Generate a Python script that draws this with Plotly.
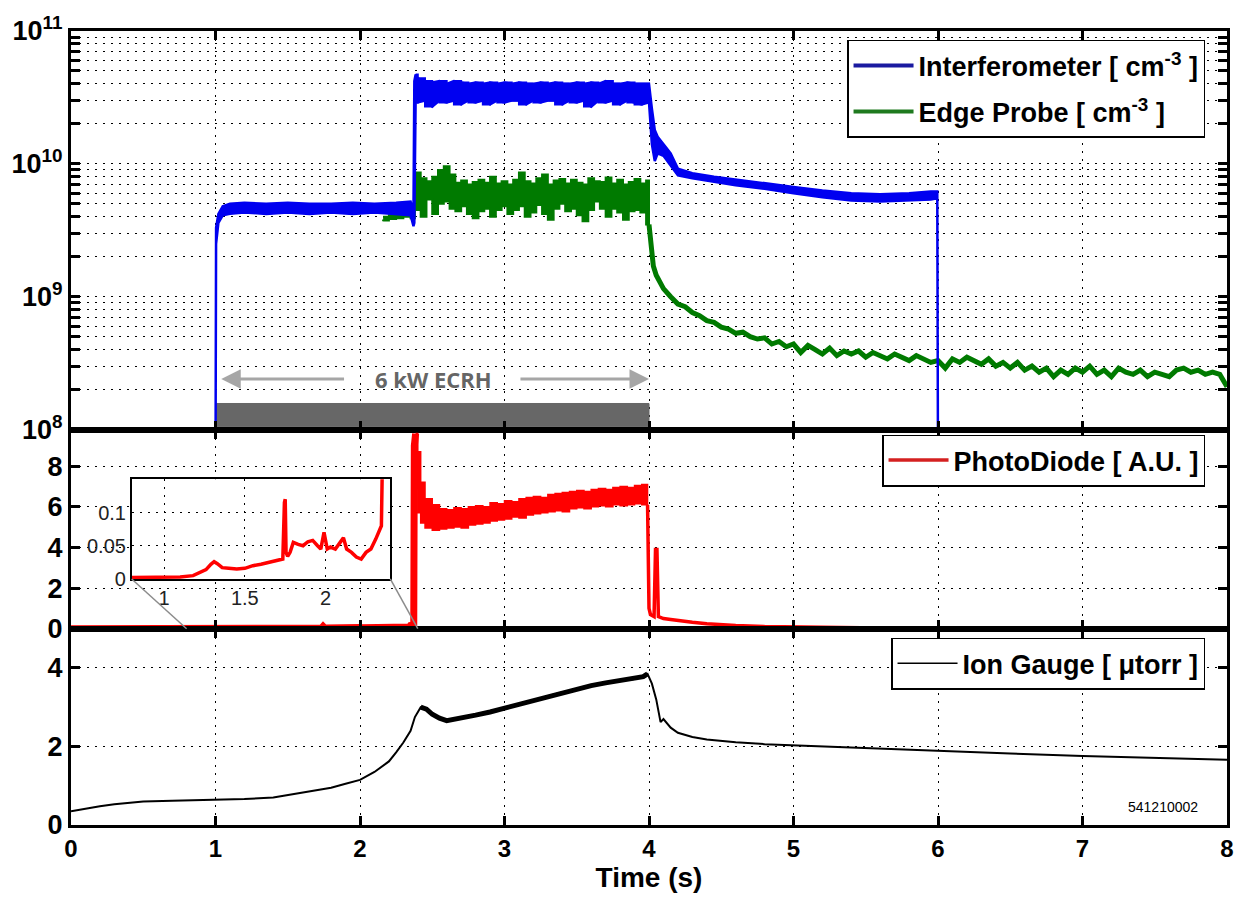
import plotly.graph_objects as go

# ---------------- data ----------------
# Interferometer (upper / lower envelope of the noisy trace), cm^-3
ifm_t = [1.000, 1.004, 1.02, 1.05, 1.10, 1.20, 1.35, 1.50, 1.65, 1.80,
         1.95, 2.10, 2.25, 2.35, 2.37, 2.376, 2.385, 2.40, 2.45, 2.50,
         2.55, 2.60, 2.65, 2.70, 2.75, 2.80, 2.85, 2.90, 2.95, 3.00,
         3.05, 3.10, 3.15, 3.20, 3.25, 3.30, 3.35, 3.40, 3.45, 3.50,
         3.55, 3.60, 3.65, 3.70, 3.75, 3.80, 3.85, 3.90, 3.95, 4.00,
         4.02, 4.04, 4.06, 4.10, 4.15, 4.20, 4.30, 4.45, 4.60, 4.80,
         5.00, 5.20, 5.40, 5.60, 5.80, 5.95, 5.995, 6.000]
ifm_hi = [5e7, 3.3e9, 4.2e9, 4.8e9, 5.0e9, 5.1e9, 5.0e9, 5.1e9, 5.0e9, 5.0e9,
          5.1e9, 5.0e9, 5.1e9, 5.2e9, 4.4e9, 4.2e10, 4.7e10, 4.4e10, 4.2e10, 4.1e10,
          4.2e10, 4.0e10, 4.2e10, 4.1e10, 4.0e10, 4.1e10, 4.0e10, 4.1e10, 4.0e10, 4.1e10,
          4.0e10, 4.1e10, 4.0e10, 4.0e10, 4.1e10, 4.0e10, 4.1e10, 4.0e10, 4.0e10, 4.1e10,
          4.0e10, 4.1e10, 4.0e10, 4.2e10, 4.0e10, 4.0e10, 4.1e10, 4.0e10, 4.0e10, 4.0e10,
          2.6e10, 1.8e10, 1.6e10, 1.4e10, 1.2e10, 9.2e9, 8.5e9, 8.0e9, 7.6e9, 7.1e9,
          6.7e9, 6.3e9, 6.0e9, 5.9e9, 6.0e9, 6.2e9, 6.2e9, 5e7]
ifm_lo = [5e7, 2.5e9, 3.6e9, 4.1e9, 4.2e9, 4.3e9, 4.2e9, 4.3e9, 4.2e9, 4.3e9,
          4.2e9, 4.3e9, 4.2e9, 4.1e9, 3.4e9, 3.6e9, 3.0e10, 2.9e10, 3.0e10, 2.7e10,
          3.0e10, 2.9e10, 3.0e10, 2.8e10, 3.0e10, 2.9e10, 3.0e10, 2.8e10, 3.0e10, 2.9e10,
          3.0e10, 3.0e10, 2.8e10, 3.0e10, 2.9e10, 3.0e10, 3.0e10, 2.8e10, 3.0e10, 2.9e10,
          3.0e10, 2.7e10, 3.0e10, 2.9e10, 3.0e10, 2.8e10, 3.0e10, 2.9e10, 2.8e10, 2.9e10,
          1.4e10, 1.05e10, 1.2e10, 1.15e10, 9.8e9, 8.2e9, 7.8e9, 7.3e9, 6.9e9, 6.5e9,
          6.0e9, 5.6e9, 5.3e9, 5.2e9, 5.3e9, 5.4e9, 5.5e9, 5e7]
ifm_noisy_window = [2.385, 4.00]

# Edge probe: noisy band during heating, then the decaying tail (cm^-3)
ep_band_t = [2.16, 2.20, 2.25, 2.30, 2.35, 2.37,
             2.38, 2.42, 2.46, 2.50, 2.54, 2.58, 2.62, 2.66, 2.70, 2.74,
             2.78, 2.82, 2.86, 2.90, 2.94, 2.98, 3.02, 3.06, 3.10, 3.14,
             3.18, 3.22, 3.26, 3.30, 3.34, 3.38, 3.42, 3.46, 3.50, 3.54,
             3.58, 3.62, 3.66, 3.70, 3.74, 3.78, 3.82, 3.86, 3.90, 3.94,
             3.98, 4.00]
ep_band_hi = [4.0e9, 4.1e9, 4.2e9, 4.3e9, 4.4e9, 4.6e9,
              8.6e9, 7.8e9, 7.4e9, 8.0e9, 9.0e9, 9.6e9, 8.3e9, 7.2e9, 7.5e9, 7.0e9,
              7.3e9, 7.6e9, 7.2e9, 8.0e9, 7.1e9, 7.4e9, 7.0e9, 7.6e9, 8.6e9, 7.4e9,
              7.1e9, 7.8e9, 8.3e9, 7.0e9, 7.5e9, 7.7e9, 7.1e9, 7.6e9, 7.2e9, 7.0e9,
              7.8e9, 7.4e9, 7.3e9, 7.9e9, 7.1e9, 7.6e9, 7.0e9, 7.3e9, 7.7e9, 7.1e9,
              7.5e9, 7.0e9]
ep_band_lo = [3.7e9, 3.75e9, 3.85e9, 3.9e9, 4.0e9, 3.9e9,
              3.9e9, 4.5e9, 4.0e9, 5.4e9, 4.2e9, 5.0e9, 5.2e9, 4.6e9, 4.4e9, 4.8e9,
              4.2e9, 3.9e9, 4.4e9, 4.6e9, 4.0e9, 4.5e9, 4.8e9, 4.2e9, 4.5e9, 4.8e9,
              4.0e9, 4.3e9, 4.9e9, 4.2e9, 3.8e9, 4.6e9, 5.0e9, 4.4e9, 4.6e9, 4.1e9,
              3.7e9, 4.5e9, 5.2e9, 4.6e9, 4.0e9, 4.6e9, 4.3e9, 3.8e9, 4.4e9, 4.5e9,
              4.3e9, 3.5e9]
ep_tail_t = [4.00, 4.01, 4.02, 4.03, 4.05,
             4.10, 4.15, 4.20, 4.25, 4.30, 4.35, 4.40, 4.45, 4.50, 4.55,
             4.60, 4.65, 4.70, 4.75, 4.80, 4.85, 4.90, 4.95, 5.00, 5.05,
             5.10, 5.15, 5.20, 5.25, 5.30, 5.35, 5.40, 5.45, 5.50, 5.55,
             5.60, 5.65, 5.70, 5.75, 5.80, 5.85, 5.90, 5.95, 6.00, 6.05,
             6.10, 6.15, 6.20, 6.25, 6.30, 6.35, 6.40, 6.45, 6.50, 6.55,
             6.60, 6.65, 6.70, 6.75, 6.80, 6.85, 6.90, 6.95, 7.00, 7.05,
             7.10, 7.15, 7.20, 7.25, 7.30, 7.35, 7.40, 7.45, 7.50, 7.55,
             7.60, 7.65, 7.70, 7.75, 7.80, 7.85, 7.90, 7.95, 8.00]
ep_tail_v = [3.5e9, 2.5e9, 2.0e9, 1.7e9, 1.45e9,
             1.15e9, 1.0e9, 8.8e8, 8.4e8, 7.6e8, 7.2e8, 6.6e8, 6.4e8, 5.9e8, 5.7e8,
             5.3e8, 5.4e8, 5.0e8, 4.8e8, 4.9e8, 4.4e8, 4.6e8, 4.2e8, 4.4e8, 3.8e8,
             4.3e8, 4.0e8, 3.7e8, 4.1e8, 3.6e8, 3.9e8, 3.7e8, 3.9e8, 3.5e8, 3.8e8,
             3.6e8, 3.4e8, 3.7e8, 3.5e8, 3.3e8, 3.6e8, 3.4e8, 3.2e8, 3.3e8, 2.9e8,
             3.4e8, 3.2e8, 3.5e8, 3.3e8, 3.1e8, 3.4e8, 3.0e8, 3.2e8, 2.9e8, 3.2e8,
             2.8e8, 3.0e8, 2.7e8, 2.9e8, 2.5e8, 2.8e8, 2.6e8, 2.9e8, 2.7e8, 3.0e8,
             2.6e8, 2.8e8, 2.5e8, 2.9e8, 2.7e8, 2.6e8, 2.8e8, 2.5e8, 2.7e8, 2.6e8,
             2.5e8, 2.8e8, 2.9e8, 2.7e8, 2.8e8, 2.6e8, 2.7e8, 2.6e8, 2.1e8]

# ECRH heating window (s) and the grey bar's vertical extent (cm^-3)
ecrh_t = [1.0, 4.0]
ecrh_bar = [1.05e8, 1.57e8]

# PhotoDiode [A.U.] -- low-level signal (also shown in the inset)
inset_t = [0.80, 0.90, 1.00, 1.10, 1.18, 1.22, 1.26, 1.29, 1.31, 1.33,
           1.36, 1.40, 1.45, 1.50, 1.55, 1.60, 1.65, 1.70, 1.735, 1.745,
           1.75, 1.755, 1.765, 1.78, 1.80, 1.83, 1.86, 1.89, 1.92, 1.95,
           1.97, 1.99, 2.00, 2.01, 2.03, 2.06, 2.09, 2.11, 2.13, 2.16,
           2.19, 2.22, 2.25, 2.28, 2.31, 2.33, 2.345, 2.35]
inset_v = [0.002, 0.002, 0.003, 0.003, 0.005, 0.009, 0.014, 0.022, 0.026, 0.023,
           0.017, 0.016, 0.015, 0.016, 0.020, 0.022, 0.025, 0.028, 0.030, 0.115,
           0.120, 0.040, 0.034, 0.040, 0.055, 0.052, 0.050, 0.056, 0.058, 0.050,
           0.045, 0.070, 0.060, 0.045, 0.048, 0.045, 0.055, 0.062, 0.045, 0.040,
           0.033, 0.030, 0.040, 0.045, 0.060, 0.070, 0.080, 0.160]
pd_start_t = [0.0]
pd_start_v = [0.002]
pd_rise_t = [2.372, 2.376, 2.385]
pd_rise_v = [0.2, 9.0, 9.6]
pd_band_t = [2.385, 2.40, 2.42, 2.45, 2.50, 2.55, 2.60, 2.65, 2.70, 2.75,
             2.80, 2.85, 2.90, 2.95, 3.00, 3.05, 3.10, 3.15, 3.20, 3.25,
             3.30, 3.35, 3.40, 3.45, 3.50, 3.55, 3.60, 3.65, 3.70, 3.75,
             3.80, 3.85, 3.90, 3.95, 3.99]
pd_band_hi = [9.6, 8.7, 7.2, 6.4, 6.1, 5.9, 5.85, 5.95, 5.9, 6.0,
              6.05, 6.0, 6.2, 6.15, 6.3, 6.25, 6.4, 6.45, 6.5, 6.45,
              6.6, 6.65, 6.7, 6.75, 6.8, 6.75, 6.85, 6.9, 6.85, 6.95,
              7.0, 6.95, 7.05, 7.1, 7.1]
pd_band_lo = [8.0, 6.9, 5.7, 5.2, 4.95, 4.85, 4.9, 4.95, 5.0, 4.95,
              5.1, 5.15, 5.2, 5.3, 5.35, 5.4, 5.5, 5.45, 5.6, 5.65,
              5.7, 5.75, 5.8, 5.75, 5.9, 5.95, 5.9, 6.0, 6.05, 6.0,
              6.1, 6.05, 6.1, 6.15, 6.1]
pd_end_t = [3.99, 4.00, 4.01, 4.035, 4.045, 4.055, 4.065, 4.08, 4.10, 4.15,
            4.20, 4.30, 4.40, 4.50, 4.60, 4.80, 5.00, 5.20, 5.47]
pd_end_v = [6.1, 1.0, 0.7, 0.6, 3.9, 3.9, 0.6, 0.55, 0.5, 0.45,
            0.4, 0.32, 0.25, 0.2, 0.16, 0.11, 0.08, 0.06, 0.05]

# Ion gauge [microtorr]
ion_t = [0.00, 0.10, 0.20, 0.30, 0.40, 0.50, 0.70, 1.00, 1.20, 1.40,
         1.60, 1.80, 1.90, 2.00, 2.10, 2.20, 2.25, 2.30, 2.35, 2.38,
         2.42, 2.46, 2.50, 2.55, 2.60, 2.70, 2.80, 2.90, 3.00, 3.10,
         3.20, 3.30, 3.40, 3.50, 3.60, 3.70, 3.80, 3.90, 3.96, 3.99,
         4.02, 4.05, 4.07, 4.08, 4.10, 4.15, 4.20, 4.30, 4.40, 4.60,
         4.80, 5.00, 5.50, 6.00, 6.50, 7.00, 7.50, 8.00]
ion_v = [0.35, 0.42, 0.48, 0.53, 0.57, 0.60, 0.62, 0.64, 0.66, 0.70,
         0.82, 0.95, 1.05, 1.15, 1.35, 1.62, 1.85, 2.10, 2.40, 2.75,
         3.00, 2.95, 2.82, 2.72, 2.66, 2.72, 2.80, 2.88, 2.98, 3.08,
         3.18, 3.28, 3.38, 3.45, 3.55, 3.62, 3.68, 3.72, 3.78, 3.85,
         3.60, 3.20, 2.85, 2.62, 2.70, 2.48, 2.35, 2.24, 2.18, 2.11,
         2.06, 2.03, 1.96, 1.89, 1.82, 1.76, 1.71, 1.66]
ion_thick_window = [2.40, 4.00]

# tick labels
x_ticks = [0, 1, 2, 3, 4, 5, 6, 7, 8]
decades = [8, 9, 10, 11]
pd_ticks = [0, 2, 4, 6, 8]
ion_ticks = [0, 2, 4]
inset_xticks = [1, 1.5, 2]
inset_xtext = ['1', '1.5', '2']
inset_yticks = [0, 0.05, 0.1]
inset_ytext = ['0', '0.05', '0.1']

# ---------------- styling ----------------
BLUE = '#0000f0'
GREEN = '#007a00'
RED = '#ff0000'
FONT = 'Liberation Sans'

dom_top = [0.4981, 1.0]
dom_mid = [0.2472, 0.4981]
dom_bot = [0.0, 0.2472]
ins_dx = [0.0525, 0.2762]
ins_dy = [0.3099, 0.4354]
x_range = [0, 8]
mid_range = [0, 9.8]
ins_xr = [0.8, 2.4]
ins_yr = [0, 0.15]


def window(ts, *cols, lo, hi):
    idx = [i for i, t in enumerate(ts) if lo <= t <= hi]
    return [[ts[i] for i in idx]] + [[c[i] for i in idx] for c in cols]


fig = go.Figure()

# ECRH bar
fig.add_trace(go.Scatter(
    x=[ecrh_t[0], ecrh_t[1], ecrh_t[1], ecrh_t[0], ecrh_t[0]],
    y=[ecrh_bar[0], ecrh_bar[0], ecrh_bar[1], ecrh_bar[1], ecrh_bar[0]],
    fill='toself', fillcolor='#676767', line=dict(color='#676767', width=1),
    mode='lines', showlegend=False, hoverinfo='skip', xaxis='x', yaxis='y'))

# Edge probe band + tail
fig.add_trace(go.Scatter(
    x=ep_band_t + ep_band_t[::-1], y=ep_band_hi + ep_band_lo[::-1],
    fill='toself', fillcolor=GREEN, mode='lines', line=dict(color=GREEN, width=2, shape='hv'),
    showlegend=False, xaxis='x', yaxis='y'))
fig.add_trace(go.Scatter(
    x=ep_tail_t, y=ep_tail_v, mode='lines', line=dict(color=GREEN, width=5),
    showlegend=False, xaxis='x', yaxis='y'))

# Interferometer band (smooth outline) + blocky noisy flat-top
fig.add_trace(go.Scatter(
    x=ifm_t + ifm_t[::-1], y=ifm_hi + ifm_lo[::-1],
    fill='toself', fillcolor=BLUE, mode='lines', line=dict(color=BLUE, width=2.5),
    showlegend=False, xaxis='x', yaxis='y'))
nt, nhi, nlo = window(ifm_t, ifm_hi, ifm_lo, lo=ifm_noisy_window[0], hi=ifm_noisy_window[1])
fig.add_trace(go.Scatter(
    x=nt + nt[::-1], y=nhi + nlo[::-1],
    fill='toself', fillcolor=BLUE, mode='lines', line=dict(color=BLUE, width=2, shape='hv'),
    showlegend=False, xaxis='x', yaxis='y'))

# legend entries (top)
fig.add_trace(go.Scatter(x=[None], y=[None], mode='lines', name='Interferometer [ cm<sup>-3</sup> ]',
                         line=dict(color='#1a1aa0', width=4), legend='legend', legendgroup='a',
                         xaxis='x', yaxis='y'))
fig.add_trace(go.Scatter(x=[None], y=[None], mode='lines', name='Edge Probe [ cm<sup>-3</sup> ]',
                         line=dict(color='#1f7a1f', width=4), legend='legend', legendgroup='b',
                         xaxis='x', yaxis='y'))

# Photodiode
fig.add_trace(go.Scatter(
    x=pd_start_t + inset_t + pd_rise_t, y=pd_start_v + inset_v + pd_rise_v,
    mode='lines', line=dict(color=RED, width=7), showlegend=False, xaxis='x2', yaxis='y2'))
fig.add_trace(go.Scatter(
    x=pd_band_t + pd_band_t[::-1], y=pd_band_hi + pd_band_lo[::-1],
    fill='toself', fillcolor=RED, mode='lines', line=dict(color=RED, width=1.5, shape='hv'),
    showlegend=False, xaxis='x2', yaxis='y2'))
fig.add_trace(go.Scatter(
    x=pd_end_t, y=pd_end_v, mode='lines', line=dict(color=RED, width=3.5),
    showlegend=False, xaxis='x2', yaxis='y2'))
fig.add_trace(go.Scatter(x=[None], y=[None], mode='lines', name='PhotoDiode [ A.U. ]',
                         line=dict(color='#d42020', width=3.5), legend='legend2',
                         xaxis='x2', yaxis='y2'))

# Ion gauge
fig.add_trace(go.Scatter(x=ion_t, y=ion_v, mode='lines', line=dict(color='black', width=2),
                         showlegend=False, xaxis='x3', yaxis='y3'))
tt, tv = window(ion_t, ion_v, lo=ion_thick_window[0], hi=ion_thick_window[1])
fig.add_trace(go.Scatter(x=tt, y=tv, mode='lines',
                         line=dict(color='black', width=5), showlegend=False,
                         xaxis='x3', yaxis='y3'))
fig.add_trace(go.Scatter(x=[None], y=[None], mode='lines', name='Ion Gauge [ \u03bctorr ]',
                         line=dict(color='black', width=1.5), legend='legend3',
                         xaxis='x3', yaxis='y3'))

# Inset
fig.add_trace(go.Scatter(x=inset_t, y=inset_v, mode='lines', line=dict(color=RED, width=3.5),
                         showlegend=False, xaxis='x4', yaxis='y4'))

# ---------------- axes ----------------
grid = dict(showgrid=True, gridcolor='black', gridwidth=1, griddash='2px,6px', zeroline=False)
frame = dict(showline=True, linewidth=3, linecolor='black', mirror='ticks',
             ticks='inside', ticklen=9, tickwidth=2.5, tickcolor='black')
ytf = dict(family=FONT, size=27, color='black', weight='bold')
xtf = dict(family=FONT, size=24, color='black', weight='bold')
lgf = dict(family=FONT, size=27, color='black', weight='bold')

log_vals, log_text = [], []
for d in decades:
    for m in range(1, 10):
        if d == decades[-1] and m > 1:
            break
        log_vals.append(m * 10 ** d)
        log_text.append(f'10<sup>{d}</sup>' if m == 1 else '')

xcommon = dict(range=x_range, tickvals=x_ticks, **grid, **frame)

fig.update_layout(
    width=1246, height=898,
    margin=dict(l=62, r=19, t=28, b=73),
    paper_bgcolor='white', plot_bgcolor='white',
    xaxis=dict(domain=[0, 1], anchor='y', showticklabels=False, **xcommon),
    xaxis2=dict(domain=[0, 1], anchor='y2', matches='x', showticklabels=False, **xcommon),
    xaxis3=dict(domain=[0, 1], anchor='y3', matches='x', showticklabels=True,
                ticktext=[str(v) for v in x_ticks], tickfont=xtf,
                title=dict(text='Time (s)', font=dict(family=FONT, size=28, color='black', weight='bold'),
                           standoff=4),
                **xcommon),
    yaxis=dict(domain=dom_top, anchor='x', type='log', range=[decades[0], decades[-1]],
               tickvals=log_vals, ticktext=log_text, tickfont=ytf, **grid, **frame),
    yaxis2=dict(domain=dom_mid, anchor='x2', range=mid_range, tickvals=pd_ticks,
                ticktext=[str(v) for v in pd_ticks], tickfont=ytf, **grid, **frame),
    yaxis3=dict(domain=dom_bot, anchor='x3', range=[0, 5], tickvals=ion_ticks,
                ticktext=[str(v) for v in ion_ticks], tickfont=ytf, **grid, **frame),
    xaxis4=dict(domain=ins_dx, anchor='y4', range=ins_xr, tickvals=inset_xticks, ticktext=inset_xtext,
                tickfont=dict(family=FONT, size=20, color='#222'), showline=True, linewidth=1.5,
                linecolor='black', mirror=True, ticks='', **grid),
    yaxis4=dict(domain=ins_dy, anchor='x4', range=ins_yr, tickvals=inset_yticks, ticktext=inset_ytext,
                tickfont=dict(family=FONT, size=20, color='#222'), showline=True, linewidth=1.5,
                linecolor='black', mirror=True, ticks='', **grid),
    legend=dict(x=0.981, y=0.9887, xanchor='right', yanchor='top', bgcolor='white',
                bordercolor='black', borderwidth=1.5, tracegroupgap=8, itemwidth=60, font=lgf),
    legend2=dict(x=0.981, y=0.4918, xanchor='right', yanchor='top', bgcolor='white',
                 bordercolor='black', borderwidth=1.5, itemwidth=60, font=lgf),
    legend3=dict(x=0.981, y=0.2359, xanchor='right', yanchor='top', bgcolor='white',
                 bordercolor='black', borderwidth=1.5, itemwidth=60, font=lgf),
)

# inset connector lines (paper coordinates derived from domains / ranges)
def mid_paper_x(t):
    return (t - x_range[0]) / (x_range[1] - x_range[0])

for corner_x, target_t in [(ins_dx[0], ins_xr[0]), (ins_dx[1], ins_xr[1])]:
    fig.add_shape(type='line', xref='paper', yref='paper',
                  x0=corner_x, y0=ins_dy[0], x1=mid_paper_x(target_t), y1=dom_mid[0],
                  line=dict(color='#8c8c8c', width=1.5), layer='above')

# ECRH label and arrows
ecrh_y = 8.38  # log10 position of the label row
fig.add_annotation(x=(ecrh_t[0] + ecrh_t[1]) / 2 + 0.01, y=ecrh_y, xref='x', yref='y',
                   text='6 kW ECRH', showarrow=False,
                   font=dict(family='Open Sans', size=22, color='#666666', weight='bold'))
fig.add_annotation(x=ecrh_t[0] + 0.04, y=ecrh_y, xref='x', yref='y', ax=1.90, ay=0, axref='x',
                   text='', showarrow=True, arrowhead=2, arrowsize=1.3, arrowwidth=3,
                   arrowcolor='#a6a6a6')
fig.add_annotation(x=ecrh_t[1], y=ecrh_y, xref='x', yref='y', ax=3.10, ay=0, axref='x',
                   text='', showarrow=True, arrowhead=2, arrowsize=1.3, arrowwidth=3,
                   arrowcolor='#a6a6a6')

fig.add_annotation(x=7.56, y=0.46, xref='x3', yref='y3', text='541210002', showarrow=False,
                   font=dict(family=FONT, size=14, color='black'))

fig.write_html('out.html')
